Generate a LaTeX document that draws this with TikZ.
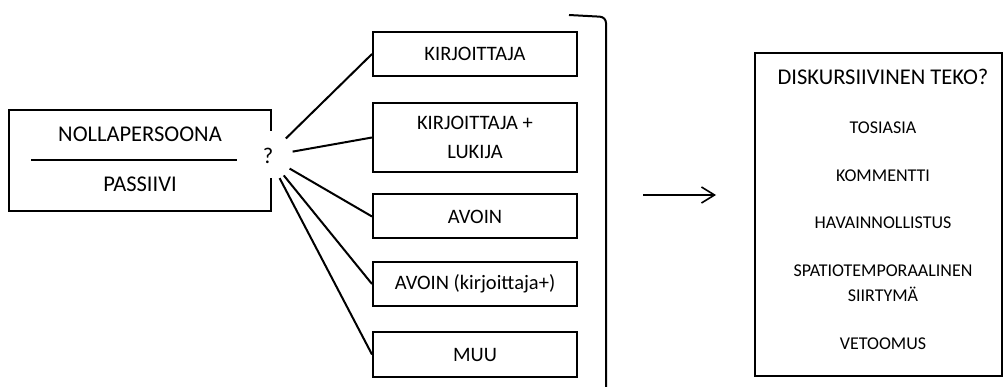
\documentclass[tikz,border=0pt]{standalone}
\usepackage{fontspec}
\setmainfont{Carlito}
\usetikzlibrary{arrows.meta, positioning, calc}

\begin{document}
\begin{tikzpicture}[x=1pt, y=-1pt, line width=2pt,
        choice/.style={draw, minimum width=204pt, minimum height=44pt, inner sep=0pt, align=center, font=\fontsize{20.5}{29}\selectfont},
        act/.style={align=center, font=\fontsize{18}{25}\selectfont}]
        \useasboundingbox (0,0) rectangle (1004,387);

        % Source box, open on the right around the question mark
        \node[minimum width=260pt, minimum height=99pt, inner sep=0pt] (src) at (140,160.5) {};
        \draw ($(src.north east)+(0,21)$) -- (src.north east) -- (src.north west) -- (src.south west) -- (src.south east) -- ++(0,-33);
        \node[font=\fontsize{22.5}{26}\selectfont] (nolla) at (140,134) {NOLLAPERSOONA};
        \node[font=\fontsize{22.5}{26}\selectfont] (passiivi) at (140,184) {PASSIIVI};
        \draw ($(src.west)+(22,0)$) -- ($(src.east)+(-34,0)$); % Divider
        \node[circle, minimum size=48pt, inner sep=0pt, font=\fontsize{22.5}{26}\selectfont] (q) at (268,156) {?};

        % Reference options
        \node[choice] (k1) at (475,54) {KIRJOITTAJA};
        \node[choice, minimum height=69pt] (k2) at (475,137.5) {KIRJOITTAJA +\\LUKIJA};
        \node[choice] (k3) at (475,216.5) {AVOIN};
        \node[choice] (k4) at (475,284) {AVOIN (kirjoittaja+)};
        \node[choice] (k5) at (475,354.5) {MUU};

        % Connectors from the question mark
        \foreach \k in {k1,k2,k3,k4,k5} {
            \draw (q) -- (\k.west);
        }

        % Bracket closing the options
        \draw[rounded corners=6pt] (569,15) -- (606,17) -- (606,390);

        % Arrow to the discourse acts
        \coordinate (arrS) at (643,195);
        \coordinate (arrE) at (716,195);
        \draw[line width=1.6pt, -{Straight Barb[length=13pt, width=16pt]}] (arrS) -- (arrE);

        % Discourse act box
        \node[draw, minimum width=247pt, minimum height=323pt, inner sep=0pt] (teko) at (878.5,214.5) {};
        \node[font=\fontsize{22.5}{26}\selectfont] (otsikko) at (883,77) {DISKURSIIVINEN TEKO?};
        \node[act] (a1) at (883,128) {TOSIASIA};
        \node[act] (a2) at (883,176) {KOMMENTTI};
        \node[act] (a3) at (883,223) {HAVAINNOLLISTUS};
        \node[act] (a4) at (883,283.5) {SPATIOTEMPORAALINEN\\SIIRTYMÄ};
        \node[act] (a5) at (883,344) {VETOOMUS};

    \end{tikzpicture}
\end{document}
